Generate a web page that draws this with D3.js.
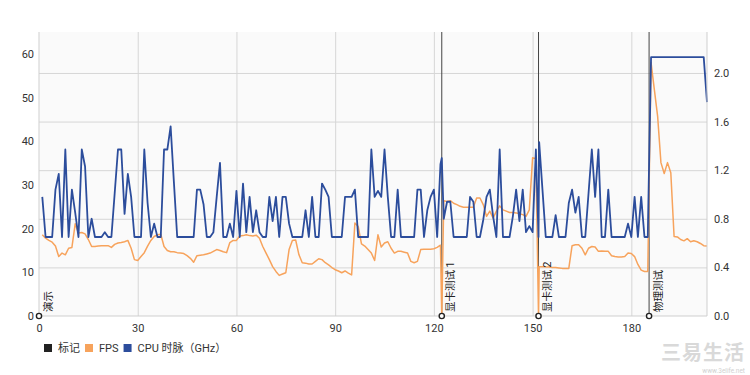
<!DOCTYPE html>
<html><head><meta charset="utf-8">
<script src="https://cdn.jsdelivr.net/npm/d3@7/dist/d3.min.js"></script>
<style>
body{margin:0;background:#fff}
svg{display:block}
text{font-family:Roboto,"Noto Sans CJK SC",sans-serif}
</style>
</head><body>
<svg id="c" width="750" height="375"></svg>
<script>
// FPS samples, one per second starting at t = 1
const fps = [
18.6,17.8,17.3,16.9,16.0,13.6,14.4,14.0,15.5,15.7,
21.1,19.0,19.1,18.8,17.5,15.9,15.9,16.0,16.1,16.1,
16.1,15.7,16.4,16.7,16.8,17.0,17.3,15.5,12.9,12.7,
13.6,14.5,16.0,17.3,18.2,18.6,18.7,15.9,15.0,14.7,
14.7,14.5,14.4,14.3,13.8,13.2,12.3,13.8,13.9,14.0,
14.2,14.4,14.8,15.2,15.0,14.7,14.5,16.8,17.3,17.3,
18.3,18.4,18.6,18.4,18.3,18.5,17.8,15.9,14.4,12.9,
11.3,10.2,9.3,9.6,9.9,15.2,17.3,17.4,14.0,12.2,
12.1,11.9,11.9,12.5,13.1,12.9,12.2,11.7,11.1,10.6,
10.3,9.9,10.3,9.8,9.4,21.3,20.5,16.5,16.0,15.2,
14.4,12.7,18.6,15.8,16.7,17.0,15.5,14.4,14.8,14.8,
14.6,14.4,12.5,12.2,12.5,15.2,15.3,15.3,15.3,15.4,
15.7,16.2,26.4,26.2,26.4,25.8,25.5,25.1,24.9,24.9,
24.9,24.9,27.0,27.0,25.5,22.8,24.0,22.4,24.0,25.2,
24.3,24.0,23.7,23.7,23.6,23.4,23.2,22.8,24.3,36.2,
36.0,11.3,11.3,11.2,11.2,11.1,11.1,11.0,10.9,10.9,
10.9,16.1,16.3,16.3,15.5,14.0,15.5,15.9,15.8,14.8,
14.9,14.8,14.8,13.8,13.6,13.5,13.5,13.6,14.4,14.3,
13.6,11.8,10.5,10.2,10.2,58.0,51.8,45.7,35.1,32.6,
35.1,32.8,18.2,18.1,17.5,17.2,17.7,17.0,17.2,17.0,
16.6,16.1,16.0
];
// CPU clock (GHz), same sampling
const cpu = [
0.98,0.65,0.65,0.65,1.04,1.17,0.65,1.37,0.65,1.04,
0.85,0.65,1.37,1.23,0.65,0.80,0.65,0.65,0.65,0.69,
0.65,0.65,1.01,1.37,1.37,0.84,1.17,0.98,0.65,0.65,
0.65,1.37,0.93,0.65,0.76,0.65,0.65,1.37,1.37,1.56,
1.10,0.65,0.65,0.65,0.65,0.65,0.65,1.04,1.04,0.92,
0.65,0.65,0.69,0.98,1.26,0.65,0.65,0.76,0.65,1.03,
0.65,1.09,0.69,0.98,0.69,0.87,0.69,0.65,0.65,0.98,
0.78,0.98,0.65,0.98,0.98,0.76,0.65,0.65,0.65,0.65,
0.87,0.65,0.98,0.65,0.65,1.09,1.04,0.98,0.65,0.65,
0.65,0.65,0.98,0.98,0.98,1.04,0.65,0.65,0.65,0.65,
1.37,0.98,1.03,0.98,1.37,0.98,0.65,0.65,1.04,0.65,
0.65,0.65,0.65,0.65,1.04,1.04,0.65,0.87,0.98,1.04,
0.65,1.25,0.80,0.94,0.94,0.65,0.65,0.65,0.65,0.65,
0.98,0.94,0.65,0.65,0.79,0.98,1.04,0.82,0.65,1.37,
0.65,0.65,0.65,0.82,1.04,0.78,1.04,0.69,0.74,0.69,
1.37,1.43,1.04,0.65,0.65,0.65,0.83,0.65,0.65,0.65,
0.93,1.04,0.85,0.98,0.65,0.65,1.01,1.37,0.98,1.37,
0.65,0.65,1.04,0.65,0.65,0.65,0.65,0.65,0.76,0.65,
0.98,0.65,0.98,0.65,0.65,2.13,2.13,2.13,2.13,2.13,
2.13,2.13,2.13,2.13,2.13,2.13,2.13,2.13,2.13,2.13,
2.13,2.13,1.76
];
// markers (scene starts)
const markerTimes = [0, 122.4, 151.8, 185.4];
const markerLabels = ["演示", "显卡测试 1", "显卡测试 2", "物理测试"];
// extra samples taken at scene transitions
const transitionTimes = [122.4, 151.8];
const transitionFps = [0, 0];
const transitionCpu = [1.30, 0.65];

const xTicks = [0, 30, 60, 90, 120, 150, 180];
const leftTicks = [0, 10, 20, 30, 40, 50, 60];
const rightTicks = [0, 0.4, 0.8, 1.2, 1.6, 2.0];
const legendNames = ["标记", "FPS", "CPU 时脉（GHz）"];
const legendColors = ["#222222", "#f7a35c", "#2c4d9c"];

const svg = d3.select("#c");
const L = 39, R = 707, T = 32, B = 316;
const x = d3.scaleLinear().domain([0, 203]).range([L, R]);
const yL = d3.scaleLinear().domain([0, 65]).range([B, T]);
const yR = d3.scaleLinear().domain([0, 2.337]).range([B, T]);

function merge(vals, tt, tv) {
  const pts = vals.map((v, i) => ({t: i + 1, v}));
  tt.forEach((t, i) => pts.push({t, v: tv[i]}));
  return pts.sort((a, b) => a.t - b.t);
}
const fpsPts = merge(fps, transitionTimes, transitionFps);
const cpuPts = merge(cpu, transitionTimes, transitionCpu);

// plot background
svg.append("rect").attr("x", L).attr("y", T).attr("width", R - L).attr("height", B - T).attr("fill", "#fafafa");

// grid
const gridColor = "#d6d6d6";
svg.append("g").attr("transform", `translate(0,${B})`)
  .call(d3.axisBottom(x).tickValues(xTicks.filter(d => d > 0)).tickSize(-(B - T)).tickFormat(""))
  .call(g => g.select(".domain").remove())
  .call(g => g.selectAll("line").attr("stroke", gridColor));
svg.append("g").attr("transform", `translate(${L},0)`)
  .call(d3.axisRight(yR).tickValues(rightTicks.filter(d => d > 0)).tickSize(R - L).tickFormat(""))
  .call(g => g.select(".domain").remove())
  .call(g => g.selectAll("line").attr("stroke", gridColor));

// marker lines
svg.append("g").selectAll("line").data(markerTimes.filter(d => d > 0)).join("line")
  .attr("x1", d => x(d)).attr("x2", d => x(d)).attr("y1", T).attr("y2", B)
  .attr("stroke", "#444").attr("stroke-width", 1);

// series
svg.append("path").datum(fpsPts)
  .attr("fill", "none").attr("stroke", legendColors[1]).attr("stroke-width", 1.5)
  .attr("stroke-linejoin", "round")
  .attr("d", d3.line().x(d => x(d.t)).y(d => yL(d.v)));
svg.append("path").datum(cpuPts)
  .attr("fill", "none").attr("stroke", legendColors[2]).attr("stroke-width", 1.8)
  .attr("stroke-linejoin", "round")
  .attr("d", d3.line().x(d => x(d.t)).y(d => yR(d.v)));

// axis frame lines
const axisColor = "#cfcfcf";
svg.append("line").attr("x1", L).attr("x2", L).attr("y1", T).attr("y2", B).attr("stroke", axisColor);
svg.append("line").attr("x1", R).attr("x2", R).attr("y1", T).attr("y2", B).attr("stroke", axisColor);
svg.append("line").attr("x1", L).attr("x2", R).attr("y1", B).attr("y2", B).attr("stroke", axisColor);

// axes labels
function styleAxis(g) {
  g.select(".domain").remove();
  g.selectAll("line").remove();
  g.selectAll("text").attr("fill", "#333").attr("font-size", 11)
    .attr("font-family", 'Roboto,"Noto Sans CJK SC",sans-serif');
}
svg.append("g").attr("transform", `translate(${L},0)`)
  .call(d3.axisLeft(yL).tickValues(leftTicks).tickSize(0).tickPadding(5)).call(styleAxis);
svg.append("g").attr("transform", `translate(${R},0)`)
  .call(d3.axisRight(yR).tickValues(rightTicks).tickSize(0).tickPadding(7).tickFormat(d3.format(".1f"))).call(styleAxis);
svg.append("g").attr("transform", `translate(0,${B})`)
  .call(d3.axisBottom(x).tickValues(xTicks).tickSize(0).tickPadding(8)).call(styleAxis);

// marker circles + labels
const mg = svg.append("g");
mg.selectAll("circle").data(markerTimes).join("circle")
  .attr("cx", d => x(d)).attr("cy", B).attr("r", 2.6)
  .attr("fill", "#fff").attr("stroke", "#222").attr("stroke-width", 1.4);
mg.selectAll("text").data(markerTimes).join("text")
  .attr("transform", d => `translate(${x(d) + 12.5},${B - 4}) rotate(-90)`)
  .attr("font-size", 10.5).attr("fill", "#222")
  .text((d, i) => markerLabels[i]);

// legend
const lg = svg.append("g");
let lx = 44;
legendNames.forEach((n, i) => {
  lg.append("rect").attr("x", lx).attr("y", 344).attr("width", 8).attr("height", 8).attr("fill", legendColors[i]);
  const t = lg.append("text").attr("x", lx + 14).attr("y", 352).attr("font-size", 11).attr("fill", "#333").text(n);
  lx = lx + 14 + t.node().getComputedTextLength() + 5;
});

// watermark
svg.append("text").attr("x", 745).attr("y", 360).attr("text-anchor", "end")
  .attr("font-size", 20).attr("font-weight", "bold").attr("fill", "#d9d9d9").attr("letter-spacing", 1).text("三易生活");
svg.append("text").attr("x", 745).attr("y", 373).attr("text-anchor", "end")
  .attr("font-size", 6.5).attr("fill", "#d0d0d0").text("www.3elife.net");
</script>
</body></html>
